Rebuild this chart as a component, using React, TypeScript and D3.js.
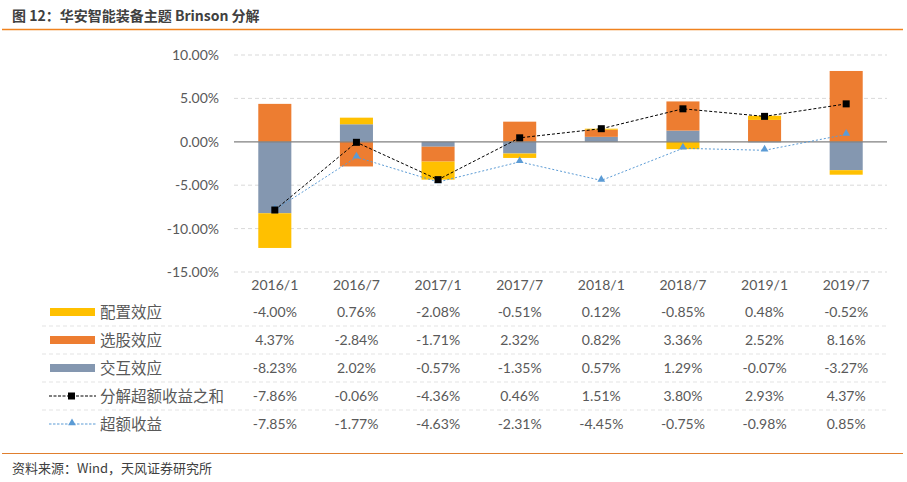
import React from "react";
import * as d3 from "d3";

const categories = ["2016/1", "2016/7", "2017/1", "2017/7", "2018/1", "2018/7", "2019/1", "2019/7"];
const allocation = [-4.0, 0.76, -2.08, -0.51, 0.12, -0.85, 0.48, -0.52];
const selection = [4.37, -2.84, -1.71, 2.32, 0.82, 3.36, 2.52, 8.16];
const interaction = [-8.23, 2.02, -0.57, -1.35, 0.57, 1.29, -0.07, -3.27];
const sumExcess = [-7.86, -0.06, -4.36, 0.46, 1.51, 3.8, 2.93, 4.37];
const excess = [-7.85, -1.77, -4.63, -2.31, -4.45, -0.75, -0.98, 0.85];
const yTicks = [10, 5, 0, -5, -10, -15];

const barSeries = [
  { name: "交互效应", values: interaction, color: "#8497B0" },
  { name: "选股效应", values: selection, color: "#ED7D31" },
  { name: "配置效应", values: allocation, color: "#FFC000" },
];

const tableRows = [
  { name: "配置效应", values: allocation, kind: "bar", color: "#FFC000" },
  { name: "选股效应", values: selection, kind: "bar", color: "#ED7D31" },
  { name: "交互效应", values: interaction, kind: "bar", color: "#8497B0" },
  { name: "分解超额收益之和", values: sumExcess, kind: "square", color: "#000000" },
  { name: "超额收益", values: excess, kind: "triangle", color: "#5B9BD5" },
];

const W = 907;
const H = 482;
const textColor = "#595959";
const numFont = "Lato, 'Noto Sans CJK SC', sans-serif";
const cjkFont = "'Noto Sans CJK SC', sans-serif";

export default function App() {
  const plotLeft = 234;
  const plotRight = 887;
  const x = d3.scaleBand<string>().domain(categories).range([plotLeft, plotRight]).paddingInner(0.595).paddingOuter(0.2975);
  const y = d3.scaleLinear().domain([-15, 10]).range([272, 55]);
  const cx = (c: string) => (x(c) as number) + x.bandwidth() / 2;

  const rects: any[] = [];
  categories.forEach((c, i) => {
    let pos = 0;
    let neg = 0;
    barSeries.forEach((s) => {
      const v = s.values[i];
      let y0, y1;
      if (v >= 0) {
        y0 = pos;
        y1 = pos + v;
        pos = y1;
      } else {
        y0 = neg;
        y1 = neg + v;
        neg = y1;
      }
      rects.push(
        <rect
          key={s.name + c}
          x={x(c)}
          width={x.bandwidth()}
          y={Math.min(y(y0), y(y1))}
          height={Math.abs(y(y0) - y(y1))}
          fill={s.color}
        />
      );
    });
  });

  const line = d3
    .line<number>()
    .x((_, i) => cx(categories[i]))
    .y((d) => y(d));

  const rowY = [312, 340, 368, 396, 424];
  const tri = d3.symbol().type(d3.symbolTriangle).size(26)();

  return (
    <svg width={W} height={H} style={{ position: "absolute", left: 0, top: 0 }}>
      <rect width={W} height={H} fill="#fff" />
      <text x={12} y={21} fontFamily={cjkFont} fontWeight="bold" fontSize={14} fill="#404040">
        图 12：华安智能装备主题 Brinson 分解
      </text>
      <line x1={2} x2={903} y1={29.5} y2={29.5} stroke="#F0821E" strokeWidth={1.3} />

      {yTicks.map((t) => (
        <g key={t}>
          {t !== 0 && (
            <line x1={plotLeft} x2={plotRight} y1={y(t)} y2={y(t)} stroke="#D9D9D9" strokeDasharray="4,3" />
          )}
          <text x={219} y={y(t) + 5} textAnchor="end" fontFamily={numFont} fontSize={14} fill={textColor}>
            {t.toFixed(2)}%
          </text>
        </g>
      ))}

      {rects}
      <line x1={plotLeft} x2={plotRight} y1={y(0)} y2={y(0)} stroke="#808080" strokeWidth={1.3} />

      <path d={line(excess) as string} fill="none" stroke="#5B9BD5" strokeWidth={1} strokeDasharray="2,2" />
      {excess.map((v, i) => (
        <path key={"t" + i} d={tri as string} transform={`translate(${cx(categories[i])},${y(v) - 1})`} fill="#5B9BD5" />
      ))}
      <path d={line(sumExcess) as string} fill="none" stroke="#000" strokeWidth={1} strokeDasharray="3,2" />
      {sumExcess.map((v, i) => (
        <rect key={"s" + i} x={cx(categories[i]) - 3.5} y={y(v) - 3.5} width={7} height={7} fill="#000" />
      ))}

      {categories.map((c) => (
        <text key={c} x={cx(c)} y={290} textAnchor="middle" fontFamily={numFont} fontSize={14} fill={textColor}>
          {c}
        </text>
      ))}

      {tableRows.map((r, ri) => (
        <g key={r.name}>
          {ri < tableRows.length - 1 && (
            <line x1={42} x2={plotRight} y1={rowY[ri] + 14} y2={rowY[ri] + 14} stroke="#E3E3E3" strokeDasharray="4,3" />
          )}
          {r.kind === "bar" && <rect x={50} y={rowY[ri] - 4} width={45} height={8} fill={r.color} />}
          {r.kind !== "bar" && (
            <line x1={49} x2={96} y1={rowY[ri]} y2={rowY[ri]} stroke={r.color} strokeDasharray={r.kind === "square" ? "3,1.5" : "2.5,1.5"} />
          )}
          {r.kind === "square" && <rect x={68} y={rowY[ri] - 3.5} width={7} height={7} fill="#000" />}
          {r.kind === "triangle" && <path d={tri as string} transform={`translate(72,${rowY[ri] - 1})`} fill={r.color} />}
          <text x={100} y={rowY[ri] + 6} fontFamily={cjkFont} fontSize={15.5} fill={textColor}>
            {r.name}
          </text>
          {r.values.map((v, i) => (
            <text key={i} x={cx(categories[i])} y={rowY[ri] + 5} textAnchor="middle" fontFamily={numFont} fontSize={14} fill={textColor}>
              {v.toFixed(2)}%
            </text>
          ))}
        </g>
      ))}

      <line x1={2} x2={903} y1={453.5} y2={453.5} stroke="#E07F2E" strokeWidth={1.2} />
      <text x={12} y={473} fontFamily={cjkFont} fontSize={13} fill="#404040">
        资料来源：Wind，天风证券研究所
      </text>
    </svg>
  );
}
